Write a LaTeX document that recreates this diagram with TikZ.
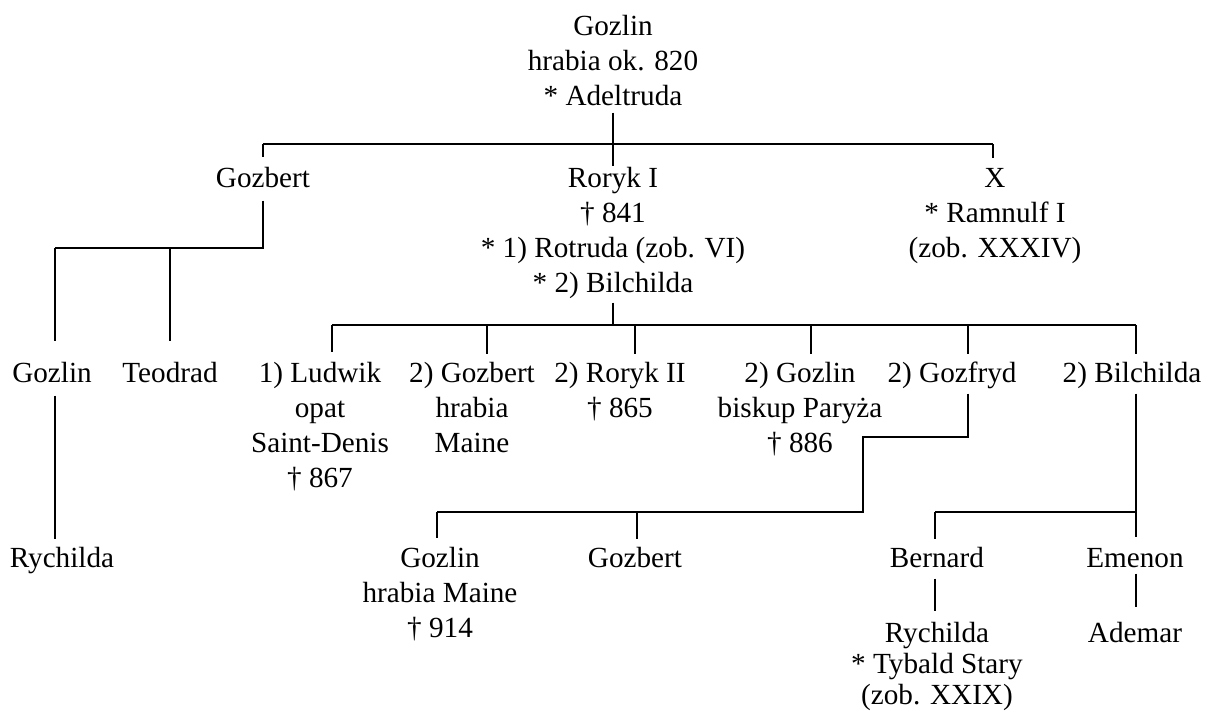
\documentclass[tikz,border=0pt]{standalone}
\usepackage{fontspec}
\setmainfont{Liberation Serif}
\begin{document}
\begin{tikzpicture}[x=0.5pt,y=-0.5pt,
  person/.style={anchor=base, align=center, inner sep=0pt,
    font=\fontsize{14.6pt}{17.5pt}\selectfont},
  tight/.style={font=\fontsize{14.6pt}{15.5pt}\selectfont},
  link/.style={line width=0.55pt, line cap=butt}]
\useasboundingbox (0,0) rectangle (1207,714);

% node positions are given at the baseline of each node's last line

% ---- generation 1
\node[person] (g0) at (613,105) {Gozlin\\hrabia ok. 820\\* Adeltruda};

% ---- generation 2
\node[person] (gozbert) at (263,187) {Gozbert};
\node[person] (roryk) at (613,292) {Roryk I\\† 841\\* 1) Rotruda (zob. VI)\\* 2) Bilchilda};
\node[person] (xx) at (995,257) {X\\* Ramnulf I\\(zob. XXXIV)};

% ---- generation 3
\node[person] (gozlinA) at (52,382) {Gozlin};
\node[person] (teodrad) at (170,382) {Teodrad};
\node[person] (ludwik) at (320,487) {1) Ludwik\\opat\\Saint-Denis\\† 867};
\node[person] (gozbertB) at (472,452) {2) Gozbert\\hrabia\\Maine};
\node[person] (roryk2) at (620,417) {2) Roryk II\\† 865};
\node[person] (gozlinC) at (800,452) {2) Gozlin\\biskup Paryża\\† 886};
\node[person] (gozfryd) at (952,382) {2) Gozfryd};
\node[person] (bilchilda) at (1132,382) {2) Bilchilda};

% ---- generation 4
\node[person] (rychildaA) at (62,567) {Rychilda};
\node[person] (gozlinD) at (440,637) {Gozlin\\hrabia Maine\\† 914};
\node[person] (gozbertE) at (635,567) {Gozbert};
\node[person] (bernard) at (937,567) {Bernard};
\node[person] (emenon) at (1135,567) {Emenon};

% ---- generation 5
\node[person,tight] (rychildaB) at (937,704) {Rychilda\\* Tybald Stary\\(zob. XXIX)};
\node[person] (ademar) at (1135,642) {Ademar};

% ---- children of Gozlin and Adeltruda
\coordinate (b1L) at (263,144);
\coordinate (b1M) at (613,144);
\coordinate (b1R) at (993,144);
\draw[link, shorten <=3.5pt] (b1M |- g0.south) -- (b1M);
\draw[link] (b1L) -- (b1R);
\draw[link, shorten >=4.5pt] (b1L) -- (b1L |- gozbert.north);
\draw[link] (b1M) -- (b1M |- roryk.north);
\draw[link, shorten >=4.5pt] (b1R) -- (b1R |- xx.north);

% ---- children of Gozbert
\coordinate (b2R) at (263,248);
\coordinate (b2L) at (55,248);
\coordinate (b2T) at (170,248);
\draw[link, shorten <=6.5pt] (b2R |- gozbert.south) -- (b2R) -- (b2L);
\draw[link, shorten >=10pt] (b2L) -- (b2L |- gozlinA.north);
\draw[link, shorten >=10pt] (b2T) -- (b2T |- teodrad.north);

% ---- children of Roryk I
\coordinate (b3M) at (613,325);
\coordinate (b3L) at (332,325);
\coordinate (b3R) at (1136,325);
\coordinate (d3a) at (487,325);
\coordinate (d3b) at (635,325);
\coordinate (d3c) at (811,325);
\coordinate (d3d) at (968,325);
\draw[link, shorten <=2pt] (b3M |- roryk.south) -- (b3M);
\draw[link] (b3L) -- (b3R);
\draw[link, shorten >=4.5pt] (b3L) -- (b3L |- ludwik.north);
\draw[link, shorten >=3.5pt] (d3a) -- (d3a |- gozbertB.north);
\draw[link, shorten >=3.5pt] (d3b) -- (d3b |- roryk2.north);
\draw[link, shorten >=3.5pt] (d3c) -- (d3c |- gozlinC.north);
\draw[link, shorten >=3.5pt] (d3d) -- (d3d |- gozfryd.north);
\draw[link, shorten >=3.5pt] (b3R) -- (b3R |- bilchilda.north);

% ---- Gozlin -> Rychilda
\draw[link, shorten <=6.5pt, shorten >=3.5pt] (55,0 |- gozlinA.south) -- (55,0 |- rychildaA.north);

% ---- children of Gozfryd
\coordinate (s1) at (968,437);
\coordinate (s2) at (863,437);
\coordinate (b4R) at (863,512);
\coordinate (b4L) at (437,512);
\coordinate (b4M) at (637,512);
\draw[link, shorten <=2.5pt] (s1 |- gozfryd.south) -- (s1) -- (s2) -- (b4R) -- (b4L);
\draw[link, shorten >=4pt] (b4L) -- (b4L |- gozlinD.north);
\draw[link, shorten >=3.5pt] (b4M) -- (b4M |- gozbertE.north);

% ---- children of Bilchilda
\coordinate (b5R) at (1136,512);
\coordinate (b5L) at (935,512);
\draw[link, shorten <=2.5pt, shorten >=5pt] (b5R |- bilchilda.south) -- (b5R |- emenon.north);
\draw[link] (b5R) -- (b5L);
\draw[link, shorten >=3.5pt] (b5L) -- (b5L |- bernard.north);

% ---- grandchildren
\draw[link, shorten <=5.5pt, shorten >=5pt] (b5L |- bernard.south) -- (b5L |- rychildaB.north);
\draw[link, shorten <=3pt, shorten >=7pt] (b5R |- emenon.south) -- (b5R |- ademar.north);
\end{tikzpicture}
\end{document}
